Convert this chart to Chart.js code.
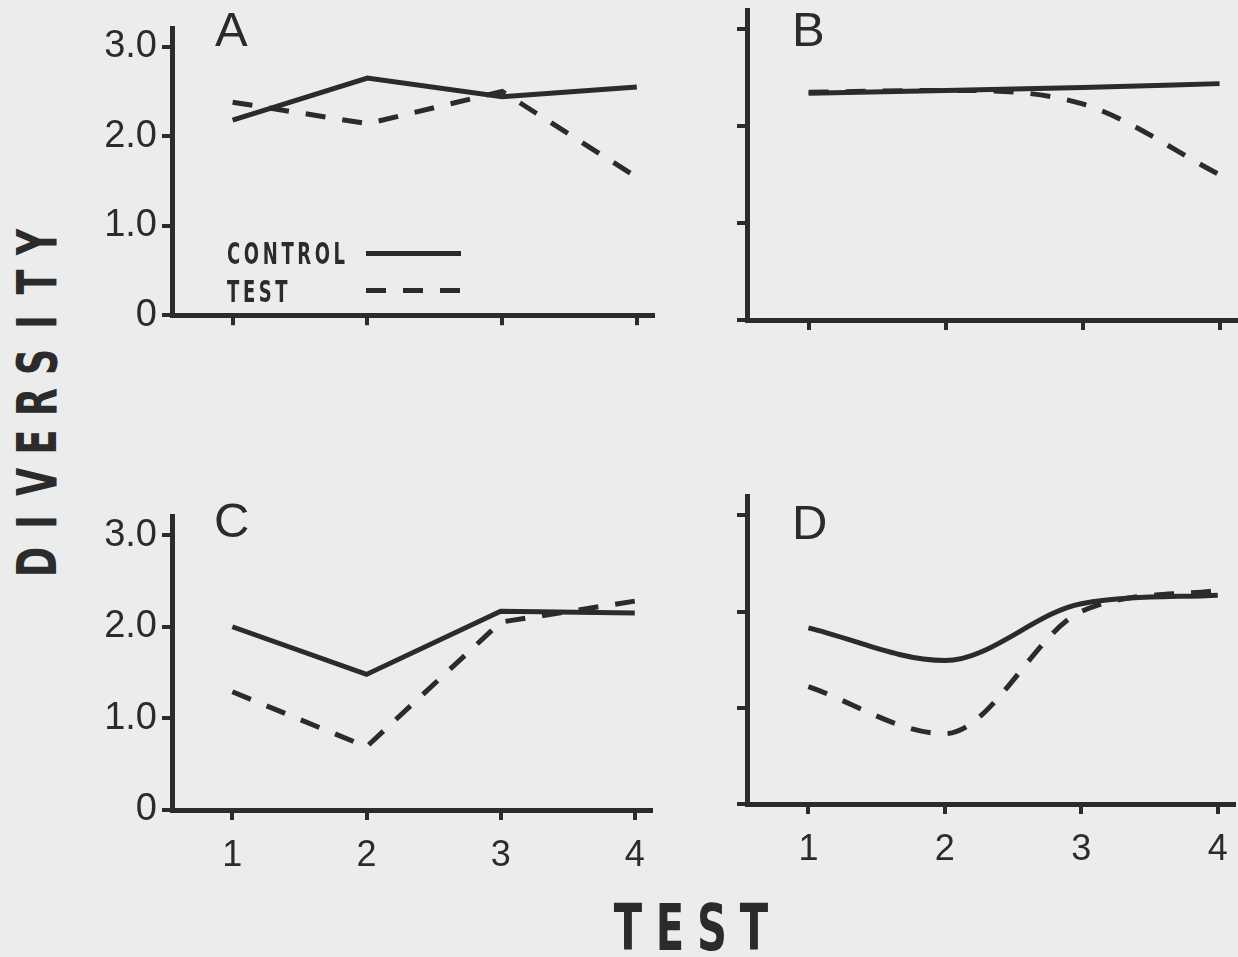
<!DOCTYPE html>
<html>
<head>
<meta charset="utf-8">
<title>Diversity by test</title>
<script src="https://cdn.jsdelivr.net/npm/chart.js@4.4.0/dist/chart.umd.min.js"></script>
<style>
  html, body { margin: 0; padding: 0; }
  body {
    width: 1238px; height: 957px; position: relative; overflow: hidden;
    background: #ececec; color: #2b2b2b;
  }
  canvas { position: absolute; }
  .letter {
    position: absolute; font-family: "Liberation Sans", Arial, sans-serif;
    font-size: 49px; line-height: 49px;
  }
  .leg {
    position: absolute; font-family: "DejaVu Sans", sans-serif; font-weight: bold;
    font-size: 30px; line-height: 30px; letter-spacing: 6px;
    transform: scaleX(0.6); transform-origin: left top; white-space: nowrap;
  }
  .legline { position: absolute; height: 5px; width: 95px; }
  #ylab {
    position: absolute; width: 350px; height: 56px; left: -138px; top: 374px;
    transform: rotate(-90deg); display: flex; justify-content: space-between; align-items: center;
    font-family: "DejaVu Sans", sans-serif; font-weight: bold; font-size: 56px; line-height: 56px;
  }
  #xlab {
    position: absolute; width: 156px; left: 613px; top: 896px; height: 64px;
    display: flex; justify-content: space-between;
    font-family: "DejaVu Sans", sans-serif; font-weight: bold; font-size: 64px; line-height: 64px;
  }
  #ylab span, #xlab span {
    display: inline-flex; justify-content: center; width: 30px; flex: none;
    transform: scaleX(0.65); white-space: nowrap;
  }
</style>
</head>
<body>
<canvas id="pa" width="587" height="342" style="left:72px; top:1px;"></canvas>
<canvas id="pb" width="595" height="342" style="left:647px; top:-2px;"></canvas>
<canvas id="pc" width="587" height="391" style="left:72px; top:489px;"></canvas>
<canvas id="pd" width="595" height="390" style="left:647px; top:484px;"></canvas>

<div class="letter" style="left:215px; top:5px;">A</div>
<div class="letter" style="left:792px; top:5px;">B</div>
<div class="letter" style="left:214px; top:496px;">C</div>
<div class="letter" style="left:792px; top:498px;">D</div>

<div class="leg" style="left:227px; top:239px;">CONTROL</div>
<div class="leg" style="left:227px; top:277px;">TEST</div>
<div class="legline" style="left:366px; top:251px; background:#2b2b2b;"></div>
<div class="legline" style="left:366px; top:288px; background:repeating-linear-gradient(to right, #2b2b2b 0 20px, transparent 20px 37px);"></div>

<div id="ylab"></div>
<div id="xlab"></div>

<script>
// test number on the x axis, diversity values
const testNums = [1, 2, 3, 4];
const yTickVals = [0, 1, 2, 3];
const yTickText = ['0', '1.0', '2.0', '3.0'];

const controlA = [2.18, 2.65, 2.44, 2.55];
const testA = [2.38, 2.14, 2.50, 1.54];
const controlB = [2.34, 2.37, 2.40, 2.44];
const testB = [2.35, 2.37, 2.23, 1.50];
const controlC = [2.00, 1.48, 2.17, 2.15];
const testC = [1.29, 0.69, 2.05, 2.28];
const controlD = [1.83, 1.49, 2.08, 2.17];
const testD = [1.22, 0.73, 2.00, 2.22];

const yAxisTitle = 'DIVERSITY';
const xAxisTitle = 'TEST';

const ink = '#2b2b2b';

function fillTitle(id, text) {
    var el = document.getElementById(id);
    text.split('').forEach(function (ch) {
        var s = document.createElement('span');
        s.textContent = ch;
        el.appendChild(s);
    });
}
fillTitle('ylab', yAxisTitle);
fillTitle('xlab', xAxisTitle);

function pts(vals) {
    return testNums.map(function (x, i) { return { x: x, y: vals[i] }; });
}

function makePanel(id, control, test, smooth, showX, showY, xh) {
    var lineOpts = smooth ? { cubicInterpolationMode: 'monotone' } : { tension: 0 };
    var axisGrid = { drawOnChartArea: false, drawTicks: true, tickLength: 10, lineWidth: 4, color: ink };
    var axisBorder = { display: true, width: 5, color: ink };
    var ctx = document.getElementById(id).getContext('2d');
    return new Chart(ctx, {
        type: 'line',
        data: {
            datasets: [
                Object.assign({ label: 'CONTROL', data: pts(control), borderColor: ink, borderWidth: 5,
                    pointRadius: 0, fill: false, borderCapStyle: 'butt' }, lineOpts),
                Object.assign({ label: 'TEST', data: pts(test), borderColor: ink, borderWidth: 5,
                    borderDash: [20, 17], pointRadius: 0, fill: false, borderCapStyle: 'butt' }, lineOpts)
            ]
        },
        options: {
            responsive: false,
            animation: false,
            events: [],
            layout: { padding: { top: 12, right: 6, left: 0, bottom: 0 } },
            plugins: { legend: { display: false }, tooltip: { enabled: false } },
            scales: {
                x: {
                    type: 'linear', min: 0.55, max: 4.12,
                    afterBuildTicks: function (s) { s.ticks = testNums.map(function (v) { return { value: v }; }); },
                    afterFit: function (s) { s.height = xh; },
                    grid: axisGrid,
                    border: axisBorder,
                    ticks: {
                        display: showX, color: ink, padding: 14,
                        font: { family: 'Liberation Sans', size: 36 },
                        callback: function (v) { return String(v); }
                    }
                },
                y: {
                    min: 0, max: 3.2,
                    afterBuildTicks: function (s) { s.ticks = yTickVals.map(function (v) { return { value: v }; }); },
                    afterFit: function (s) { s.width = 100; },
                    grid: axisGrid,
                    border: axisBorder,
                    ticks: {
                        display: showY, color: ink, padding: 5,
                        font: { family: 'Liberation Sans', size: 38 },
                        callback: function (v) { return yTickText[yTickVals.indexOf(v)]; }
                    }
                }
            }
        }
    });
}

makePanel('pa', controlA, testA, false, false, true, 20);
makePanel('pb', controlB, testB, true, false, false, 20);
makePanel('pc', controlC, testC, false, true, true, 70);
makePanel('pd', controlD, testD, true, true, false, 70);
</script>
</body>
</html>
